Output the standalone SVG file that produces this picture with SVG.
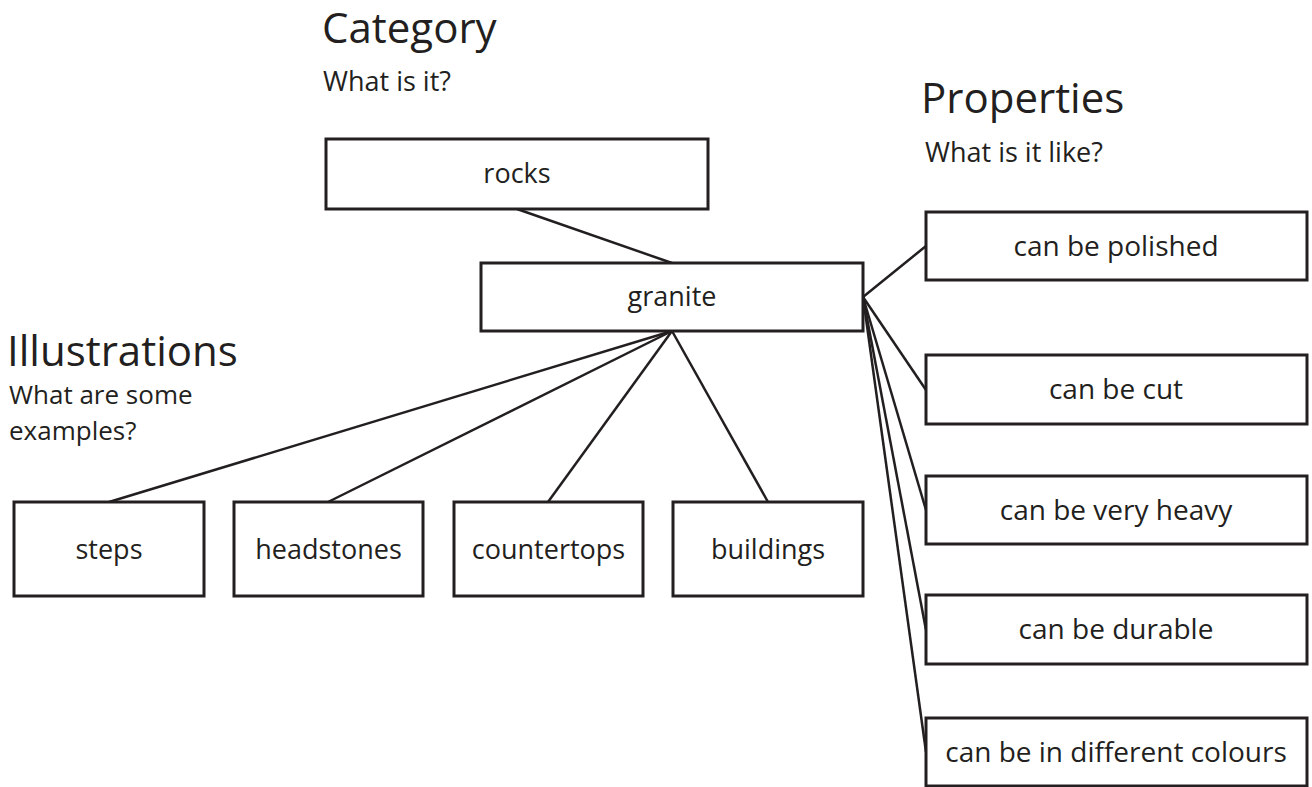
<svg xmlns="http://www.w3.org/2000/svg" width="1312" height="787" viewBox="0 0 1312 787">
<style>
.box{fill:#fff;stroke:#231f20;stroke-width:3}
.ln{stroke:#231f20;stroke-width:2.5;fill:none}
text{font-family:"Open Sans","Noto Sans",sans-serif;fill:#231f20}
.h{font-size:42px}
.s{font-size:27px}
.s2{font-size:26px}
.b{font-size:27px;text-anchor:middle}
.p{font-size:28px;text-anchor:middle}
</style>
<rect width="1312" height="787" fill="#fff"/>
<g id="headers">
<text class="h" x="322" y="43">Category</text>
<text class="s" x="323" y="91">What is it?</text>
<text class="h" x="921" y="113">Properties</text>
<text class="s" x="925" y="162">What is it like?</text>
<text class="h" x="7" y="366">Illustrations</text>
<text class="s2" x="9" y="404">What are some</text>
<text class="s2" x="9" y="440">examples?</text>
</g>
<g id="connectors">
<line class="ln" x1="517" y1="209" x2="672" y2="263"/>
<line class="ln" x1="672" y1="331" x2="109" y2="502"/>
<line class="ln" x1="672" y1="331" x2="328" y2="502"/>
<line class="ln" x1="672" y1="331" x2="548" y2="502"/>
<line class="ln" x1="672" y1="331" x2="768" y2="502"/>
<line class="ln" x1="863" y1="297" x2="926" y2="246"/>
<line class="ln" x1="863" y1="297" x2="926" y2="390"/>
<line class="ln" x1="863" y1="297" x2="926" y2="510"/>
<line class="ln" x1="863" y1="297" x2="926" y2="630"/>
<line class="ln" x1="863" y1="297" x2="926" y2="752"/>
</g>
<g id="rocks"><rect class="box" x="326" y="139" width="382" height="70"/><text class="b" x="517" y="183">rocks</text></g>
<g id="granite"><rect class="box" x="481" y="263" width="382" height="68"/><text class="b" x="672" y="306">granite</text></g>
<g id="steps"><rect class="box" x="14" y="502" width="190" height="94"/><text class="b" x="109" y="559">steps</text></g>
<g id="headstones"><rect class="box" x="234" y="502" width="189" height="94"/><text class="b" x="328.5" y="559">headstones</text></g>
<g id="countertops"><rect class="box" x="454" y="502" width="189" height="94"/><text class="b" x="548.5" y="559">countertops</text></g>
<g id="buildings"><rect class="box" x="673" y="502" width="190" height="94"/><text class="b" x="768" y="559">buildings</text></g>
<g id="polished"><rect class="box" x="926" y="212" width="381" height="68"/><text class="p" x="1116" y="256">can be polished</text></g>
<g id="cut"><rect class="box" x="926" y="355" width="381" height="69"/><text class="p" x="1116" y="399">can be cut</text></g>
<g id="heavy"><rect class="box" x="926" y="476" width="381" height="68"/><text class="p" x="1116" y="520">can be very heavy</text></g>
<g id="durable"><rect class="box" x="926" y="595" width="381" height="69"/><text class="p" x="1116" y="639">can be durable</text></g>
<g id="colours"><rect class="box" x="926" y="718" width="381" height="68"/><text class="p" x="1116" y="762">can be in different colours</text></g>
</svg>
